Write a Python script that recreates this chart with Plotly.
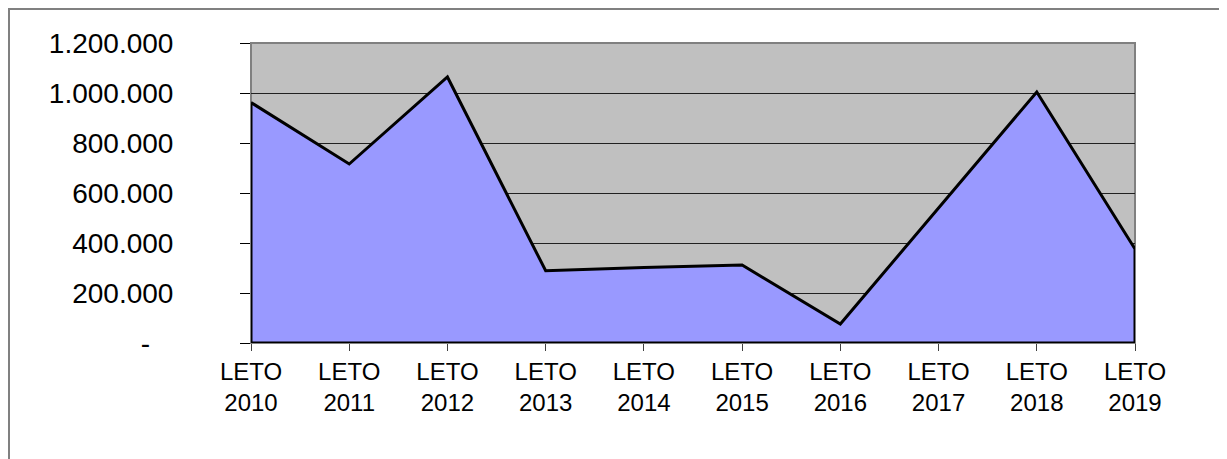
import plotly.graph_objects as go

categories = ["LETO<br>2010", "LETO<br>2011", "LETO<br>2012", "LETO<br>2013", "LETO<br>2014",
              "LETO<br>2015", "LETO<br>2016", "LETO<br>2017", "LETO<br>2018", "LETO<br>2019"]
values = [962000, 716000, 1064000, 289000, 302000, 312000, 76000, 540000, 1004000, 376000]
y_tickvals = [0, 200000, 400000, 600000, 800000, 1000000, 1200000]
y_ticktext = ["-\u00a0\u00a0\u00a0", "200.000", "400.000", "600.000", "800.000", "1.000.000", "1.200.000"]

# page body has an 8px margin; figure origin sits at (8, 8) on the page
OFF = 8
W, H = 1227 - OFF, 459 - OFF
L, T = 251 - OFF, 43 - OFF
R = W - (1135 - OFF)
B = H - (343 - OFF)
pw, ph = W - L - R, H - T - B

# closed outline of the area (data line + drop to baseline)
poly_x = categories + [categories[-1], categories[0], categories[0]]
poly_y = values + [0, 0, values[0]]

fig = go.Figure()
fig.add_trace(go.Scatter(
    x=poly_x, y=poly_y, mode="lines", fill="toself",
    fillcolor="#9999FF", line=dict(color="black", width=3), hoverinfo="skip",
    showlegend=False,
))

# plot-area border (gray, top & right)
fig.add_shape(type="rect", xref="paper", yref="paper", x0=0, x1=1, y0=0, y1=1,
              line=dict(color="#808080", width=2), layer="below")
# outer chart border (left & top visible)
fig.add_shape(type="rect", xref="paper", yref="paper",
              x0=(1 - L) / pw, x1=(W + 5 - L) / pw,
              y0=-(H + 5 - (T + ph)) / ph, y1=(T + ph - 1) / ph,
              line=dict(color="#808080", width=2), layer="below")

font = "Liberation Sans, Arial, sans-serif"
fig.update_layout(
    width=W, height=H,
    margin=dict(l=L, r=R, t=T, b=B, autoexpand=False),
    paper_bgcolor="white", plot_bgcolor="#C0C0C0",
    font=dict(family=font, color="black"),
    xaxis=dict(type="category", range=[0, 9], showgrid=False, zeroline=False,
               ticks="outside", ticklen=7, tickcolor="#404040", tickwidth=1,
               tickfont=dict(size=24, family=font), ticklabelstandoff=0,
               showline=False, fixedrange=True),
    yaxis=dict(range=[0, 1200000], tickvals=y_tickvals, ticktext=y_ticktext,
               showgrid=True, gridcolor="#202020", gridwidth=1, zeroline=False,
               ticks="outside", ticklen=10, tickcolor="black", tickwidth=1,
               tickfont=dict(size=28, family=font), ticklabelstandoff=61,
               showline=False, fixedrange=True),
)

fig.write_html("out.html")
